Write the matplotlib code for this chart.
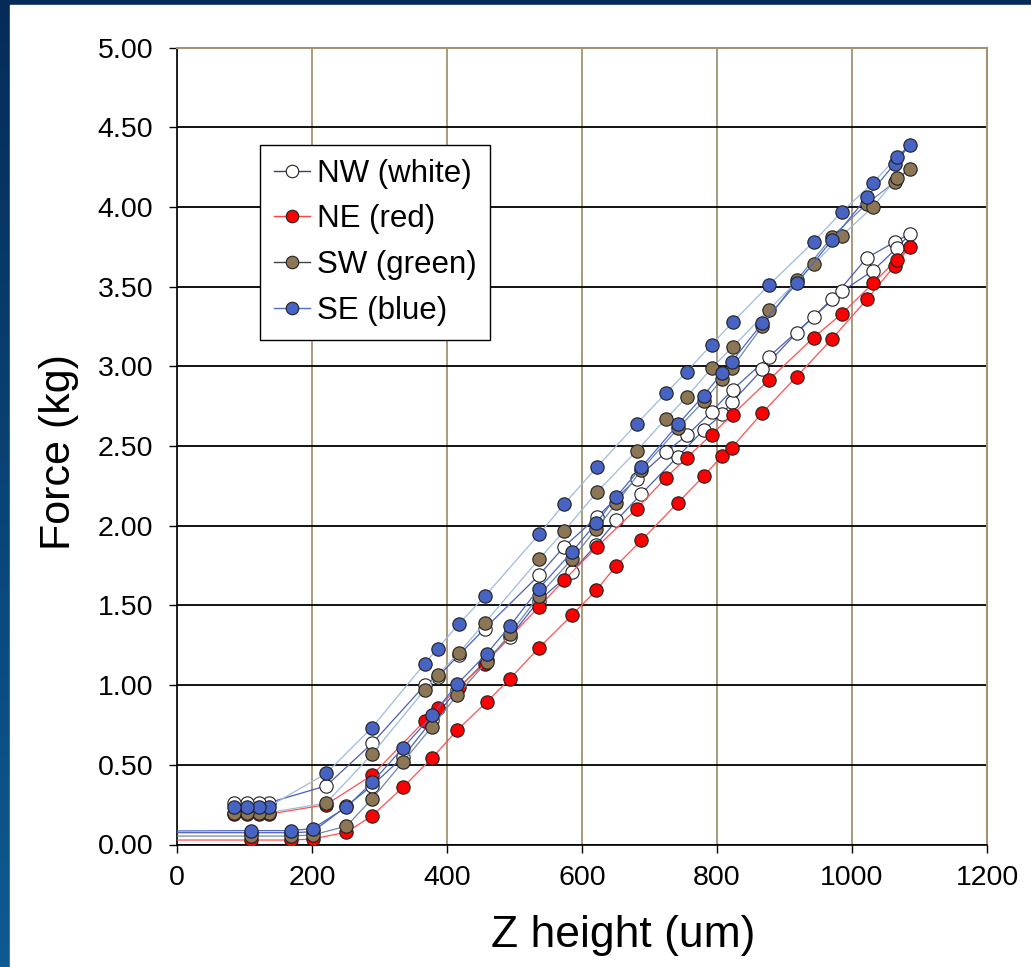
import numpy as np
import matplotlib
matplotlib.use("Agg")
import matplotlib.pyplot as plt
from matplotlib.lines import Line2D
from matplotlib.patches import Rectangle

plt.rcParams['font.family'] = ['Liberation Sans', 'DejaVu Sans']

# Z positions: going in (first pass) and coming back (second pass)
z_in = [0, 109, 169, 201, 251, 289, 335, 378, 415, 459, 493, 536, 585, 621, 651,
        688, 742, 780, 808, 822, 867, 918, 970, 1022, 1063, 1086]
z_out = [1066, 1031, 985, 943, 877, 823, 792, 755, 724, 681, 622, 573, 536, 456,
         418, 386, 367, 289, 221, 136, 121, 103, 85]

# force readings (kg) per corner
nw_in = [0.074, 0.074, 0.074, 0.08, 0.24, 0.37, 0.55, 0.78, 0.97, 1.16, 1.30, 1.53, 1.71,
         1.88, 2.033, 2.20, 2.434, 2.60, 2.70, 2.774, 2.98, 3.21, 3.42, 3.68, 3.78, 3.83]
nw_out = [3.74, 3.60, 3.47, 3.31, 3.06, 2.852, 2.716, 2.566, 2.461, 2.294, 2.054, 1.866,
          1.688, 1.355, 1.19, 1.05, 0.999, 0.634, 0.368, 0.262, 0.262, 0.262, 0.262]

ne_in = [0.028, 0.028, 0.028, 0.035, 0.077, 0.18, 0.36, 0.544, 0.717, 0.895, 1.039, 1.233,
         1.438, 1.595, 1.75, 1.908, 2.144, 2.31, 2.44, 2.49, 2.708, 2.935, 3.17, 3.42, 3.63, 3.75]
ne_out = [3.67, 3.52, 3.33, 3.18, 2.915, 2.697, 2.572, 2.426, 2.30, 2.107, 1.866, 1.657,
          1.49, 1.135, 0.99, 0.857, 0.776, 0.435, 0.25, 0.19, 0.19, 0.19, 0.19]

sw_in = [0.053, 0.053, 0.053, 0.06, 0.115, 0.286, 0.52, 0.74, 0.938, 1.146, 1.32, 1.56, 1.79,
         1.98, 2.14, 2.35, 2.61, 2.78, 2.92, 2.99, 3.25, 3.54, 3.81, 4.02, 4.155, 4.24]
sw_out = [4.18, 4.00, 3.82, 3.64, 3.355, 3.12, 2.99, 2.806, 2.67, 2.47, 2.21, 1.964,
          1.789, 1.39, 1.204, 1.062, 0.97, 0.567, 0.26, 0.20, 0.20, 0.20, 0.20]

se_in = [0.085, 0.087, 0.087, 0.10, 0.234, 0.39, 0.607, 0.81, 1.006, 1.198, 1.369, 1.605,
         1.835, 2.016, 2.183, 2.367, 2.635, 2.816, 2.96, 3.03, 3.27, 3.52, 3.79, 4.06, 4.27, 4.39]
se_out = [4.31, 4.15, 3.97, 3.78, 3.51, 3.275, 3.136, 2.967, 2.83, 2.64, 2.367, 2.133,
          1.945, 1.557, 1.386, 1.229, 1.135, 0.734, 0.446, 0.237, 0.237, 0.237, 0.237]

labels = ["NW (white)", "NE (red)", "SW (green)", "SE (blue)"]

fig = plt.figure(figsize=(10.31, 9.67), dpi=100)

# slide background: blue gradient with white panel
bg = fig.add_axes([0, 0, 1, 1], zorder=-10)
grad = np.linspace(0, 1, 256).reshape(-1, 1)
bg.imshow(grad, aspect='auto', cmap=matplotlib.colors.LinearSegmentedColormap.from_list(
    'slide', ['#052c58', '#0f5a92']), extent=[0, 1, 0, 1], origin='upper')
bg.add_patch(Rectangle((10 / 1031, 0), 1, 1 - 5 / 967, color='white'))
bg.set_xlim(0, 1)
bg.set_ylim(0, 1)
bg.axis('off')

ax = fig.add_axes([177 / 1031, 1 - 844.5 / 967, 810 / 1031, 797 / 967])

tan = '#a39373'
sensors = [
    (nw_in, nw_out, 'white', '#4d5db5', '#4d5db5'),
    (ne_in, ne_out, '#ff0000', '#ff5050', '#ff5050'),
    (sw_in, sw_out, '#8c7656', '#7088a8', '#9dbbde'),
    (se_in, se_out, '#4763c4', '#4a68c8', '#9dbbde'),
]
for y_in, y_out, face, c_in, c_out in sensors:
    ax.plot(z_in + z_out[:1], y_in + y_out[:1], color=c_in, lw=0.9, zorder=3)
    ax.plot(z_out, y_out, color=c_out, lw=0.9, zorder=3)
    ax.plot(z_in[1:] + z_out, y_in[1:] + y_out, ls='none', marker='o', ms=9.6,
            mfc=face, mec='#202020', mew=0.8, zorder=3)

ax.set_xlim(0, 1200)
ax.set_ylim(0, 5)
ax.set_xticks(range(0, 1201, 200))
ax.set_yticks(np.arange(0, 5.01, 0.5))
ax.set_yticklabels([f"{v:.2f}" for v in np.arange(0, 5.01, 0.5)])
ax.set_axisbelow(True)
ax.grid(axis='y', color='black', lw=1.3)
ax.grid(axis='x', color=tan, lw=1.3)
for s in ['top', 'right']:
    ax.spines[s].set_color(tan)
    ax.spines[s].set_linewidth(1.5)
for s in ['left', 'bottom']:
    ax.spines[s].set_color('black')
    ax.spines[s].set_linewidth(1.2)
ax.tick_params(direction='out', length=6, width=1.0, labelsize=20.5, color='black')
ax.tick_params(axis='y', pad=11)
ax.tick_params(axis='x', pad=9)

ax.set_xlabel("Z height (um)", fontsize=32)
ax.set_ylabel("Force (kg)", fontsize=31)
ax.xaxis.set_label_coords(0.551, -0.088)
ax.yaxis.set_label_coords(-0.121, 0.492)

legend_lines = ['#3a3a80', '#ff4040', '#3c4444', '#5070c8']
legend_faces = ['white', '#ff0000', '#8c7656', '#4763c4']
handles = [Line2D([], [], color=lc, lw=1.0, marker='o', ms=9, mfc=fc, mec='#202020', mew=0.8)
           for lc, fc in zip(legend_lines, legend_faces)]
leg = ax.legend(handles, labels, loc='upper left', bbox_to_anchor=(0.103, 0.878),
                fontsize=22.5, frameon=True, fancybox=False, framealpha=1,
                edgecolor='black', handlelength=1.15, handletextpad=0.2,
                labelspacing=0.5, borderpad=0.45, borderaxespad=0)
leg.get_frame().set_linewidth(1.0)

fig.savefig("out.png", dpi=100)
